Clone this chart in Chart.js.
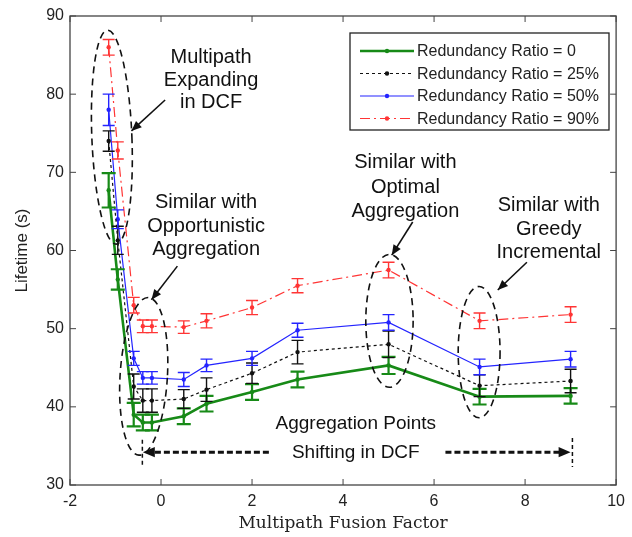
<!DOCTYPE html>
<html>
<head>
<meta charset="utf-8">
<script src="https://cdn.jsdelivr.net/npm/chart.js@4.4.1/dist/chart.umd.min.js"></script>
<style>
  html, body { margin: 0; padding: 0; background: #fff; }
  #wrap { width: 632px; height: 537px; }
</style>
</head>
<body>
<div id="wrap"><canvas id="grafico" width="632" height="537"></canvas></div>
<script>
// Multipath fusion factor (x) and lifetime (s) per redundancy ratio
const fatores = [-1.15, -0.95, -0.6, -0.4, -0.2, 0.5, 1, 2, 3, 5, 7, 9];

const ratio0  = [67.7, 56.3, 39.0, 38.0, 38.0, 38.8, 40.4, 41.9, 43.5, 45.3, 41.3, 41.4];
const ratio25 = [74.0, 61.3, 42.6, 40.8, 40.8, 41.0, 42.2, 44.3, 47.0, 48.0, 42.7, 43.3];
const ratio50 = [78.0, 64.0, 46.2, 43.7, 43.7, 43.5, 45.3, 46.2, 49.8, 50.8, 45.1, 46.1];
const ratio90 = [86.0, 72.8, 53.0, 50.3, 50.3, 50.2, 51.0, 52.7, 55.5, 57.5, 51.0, 51.8];

// half-height of the error bars
const erro0  = [2.2, 1.3, 1.5, 1.0, 1.0, 1.0, 1.0, 1.0, 1.0, 1.1, 1.0, 1.0];
const erro25 = [1.3, 1.8, 1.6, 1.5, 1.5, 1.2, 1.5, 1.3, 1.5, 1.7, 1.4, 1.5];
const erro50 = [2.0, 1.2, 0.9, 0.8, 0.8, 0.9, 0.8, 0.9, 0.9, 1.0, 1.0, 1.0];
const erro90 = [1.0, 1.1, 1.0, 0.8, 0.8, 0.8, 0.9, 0.9, 0.9, 1.0, 1.0, 1.0];

const rotulos = ["Redundancy Ratio = 0", "Redundancy Ratio = 25%", "Redundancy Ratio = 50%", "Redundancy Ratio = 90%"];

const xTicks = [-2, 0, 2, 4, 6, 8, 10];
const yTicks = [30, 40, 50, 60, 70, 80, 90];

const fonte = "'Liberation Sans', Arial, sans-serif";

const pontos = (vals) => fatores.map((f, i) => ({ x: f, y: vals[i] }));

const series = [
  { label: rotulos[0], vals: ratio0,  erros: erro0,  cor: "#178a17", largura: 2.6, dash: [],            errLarg: 2.2, cap: 7 },
  { label: rotulos[1], vals: ratio25, erros: erro25, cor: "#111111", largura: 1.2, dash: [3, 3],        errLarg: 1.4, cap: 6 },
  { label: rotulos[2], vals: ratio50, erros: erro50, cor: "#2424ff", largura: 1.2, dash: [],            errLarg: 1.4, cap: 6 },
  { label: rotulos[3], vals: ratio90, erros: erro90, cor: "#ff3535", largura: 1.2, dash: [10, 4, 2, 4], errLarg: 1.4, cap: 6 }
];

// --- annotations, in data coordinates ---
const elipses = [
  { cx: -1.08, cy: 74.5, rx: 0.44, ry: 13.7, rot: -0.04 },
  { cx: -0.38, cy: 43.9, rx: 0.52, ry: 10.1, rot: 0.06 },
  { cx: 5.02,  cy: 51.0, rx: 0.52, ry: 8.5,  rot: 0 },
  { cx: 6.99,  cy: 47.0, rx: 0.46, ry: 8.4,  rot: 0 }
];
const setas = [
  { x1: 0.09, y1: 79.25, x2: -0.65, y2: 75.3 },
  { x1: 0.36, y1: 58.0,  x2: -0.21, y2: 53.7 },
  { x1: 5.53, y1: 63.65, x2: 5.07,  y2: 59.4 },
  { x1: 8.04, y1: 58.5,  x2: 7.40,  y2: 54.95 }
];
const textos = [
  { x: 1.10, y: [84.75, 81.8, 78.9],  tam: 20, linhas: ["Multipath", "Expanding", "in DCF"] },
  { x: 0.99, y: [66.2, 63.1, 60.1],   tam: 20, linhas: ["Similar with", "Opportunistic", "Aggregation"] },
  { x: 5.37, y: [71.2, 68.1, 65.05],  tam: 20, linhas: ["Similar with", "Optimal", "Aggregation"] },
  { x: 8.52, y: [65.8, 62.75, 59.7],  tam: 20, linhas: ["Similar with", "Greedy", "Incremental"] },
  { x: 4.28, y: [37.8, 34.1],         tam: 19, linhas: ["Aggregation Points", "Shifting in DCF"] }
];

function setaCheia(ctx, x1, y1, x2, y2, tam) {
  const ang = Math.atan2(y2 - y1, x2 - x1);
  ctx.beginPath();
  ctx.moveTo(x2, y2);
  ctx.lineTo(x2 - tam * Math.cos(ang - 0.4), y2 - tam * Math.sin(ang - 0.4));
  ctx.lineTo(x2 - tam * Math.cos(ang + 0.4), y2 - tam * Math.sin(ang + 0.4));
  ctx.closePath();
  ctx.fill();
}

// frame with inward ticks (MATLAB look)
const moldura = {
  id: "moldura",
  beforeDatasetsDraw(chart) {
    const { ctx, chartArea: a, scales } = chart;
    ctx.save();
    ctx.strokeStyle = "#444";
    ctx.lineWidth = 1.3;
    ctx.strokeRect(a.left, a.top, a.right - a.left, a.bottom - a.top);
    ctx.lineWidth = 1;
    ctx.beginPath();
    xTicks.forEach(t => {
      const px = scales.x.getPixelForValue(t);
      ctx.moveTo(px, a.bottom); ctx.lineTo(px, a.bottom - 6);
      ctx.moveTo(px, a.top); ctx.lineTo(px, a.top + 6);
    });
    yTicks.forEach(t => {
      const py = scales.y.getPixelForValue(t);
      ctx.moveTo(a.left, py); ctx.lineTo(a.left + 6, py);
      ctx.moveTo(a.right, py); ctx.lineTo(a.right - 6, py);
    });
    ctx.stroke();
    ctx.restore();
  }
};

const barrasErro = {
  id: "barrasErro",
  afterDatasetsDraw(chart) {
    const { ctx, scales } = chart;
    ctx.save();
    ctx.setLineDash([]);
    series.forEach((s, i) => {
      const meta = chart.getDatasetMeta(i);
      ctx.strokeStyle = s.cor;
      ctx.lineWidth = s.errLarg;
      meta.data.forEach((pt, j) => {
        const top = scales.y.getPixelForValue(s.vals[j] + s.erros[j]);
        const bot = scales.y.getPixelForValue(s.vals[j] - s.erros[j]);
        ctx.beginPath();
        ctx.moveTo(pt.x, top); ctx.lineTo(pt.x, bot);
        ctx.moveTo(pt.x - s.cap, top); ctx.lineTo(pt.x + s.cap, top);
        ctx.moveTo(pt.x - s.cap, bot); ctx.lineTo(pt.x + s.cap, bot);
        ctx.stroke();
      });
    });
    ctx.restore();
  }
};

const anotacoes = {
  id: "anotacoes",
  afterDraw(chart) {
    const { ctx, scales } = chart;
    const X = v => scales.x.getPixelForValue(v);
    const Y = v => scales.y.getPixelForValue(v);
    const kx = X(1) - X(0), ky = Y(0) - Y(1);
    ctx.save();
    ctx.strokeStyle = "#111";
    ctx.fillStyle = "#111";

    // dashed ellipses
    ctx.lineWidth = 1.6;
    ctx.setLineDash([7, 5]);
    elipses.forEach(e => {
      ctx.beginPath();
      ctx.ellipse(X(e.cx), Y(e.cy), e.rx * kx, e.ry * ky, e.rot, 0, Math.PI * 2);
      ctx.stroke();
    });

    // callout arrows
    ctx.setLineDash([]);
    ctx.lineWidth = 1.6;
    setas.forEach(s => {
      const x1 = X(s.x1), y1 = Y(s.y1), x2 = X(s.x2), y2 = Y(s.y2);
      ctx.beginPath();
      ctx.moveTo(x1, y1); ctx.lineTo(x2, y2);
      ctx.stroke();
      setaCheia(ctx, x1, y1, x2, y2, 11);
    });

    // texts
    ctx.textAlign = "center";
    ctx.textBaseline = "middle";
    textos.forEach(t => {
      ctx.font = t.tam + "px " + fonte;
      t.linhas.forEach((l, k) => ctx.fillText(l, X(t.x), Y(t.y[k])));
    });

    // shifting arrows
    const yS = Y(34.2);
    ctx.lineWidth = 3;
    ctx.setLineDash([6, 3]);
    ctx.beginPath();
    ctx.moveTo(X(2.37), yS); ctx.lineTo(X(-0.2), yS);
    ctx.moveTo(X(6.25), yS); ctx.lineTo(X(8.8), yS);
    ctx.stroke();
    ctx.setLineDash([]);
    setaCheia(ctx, X(0), yS, X(-0.4), yS, 13);
    setaCheia(ctx, X(8.6), yS, X(9.0), yS, 13);
    ctx.lineWidth = 1.5;
    ctx.setLineDash([4, 3]);
    ctx.beginPath();
    ctx.moveTo(X(-0.41), Y(35.8)); ctx.lineTo(X(-0.41), Y(32.3));
    ctx.moveTo(X(9.04), Y(36.0)); ctx.lineTo(X(9.04), Y(32.3));
    ctx.stroke();

    // legend box
    ctx.setLineDash([]);
    const lx = 350, ly = 33, lw = 259, lh = 97;
    ctx.fillStyle = "#fff";
    ctx.fillRect(lx, ly, lw, lh);
    ctx.strokeStyle = "#222";
    ctx.lineWidth = 1.3;
    ctx.strokeRect(lx, ly, lw, lh);
    ctx.font = "16px " + fonte;
    ctx.textAlign = "left";
    series.forEach((s, i) => {
      const yy = ly + 18 + i * 22.5;
      ctx.strokeStyle = s.cor;
      ctx.lineWidth = s.largura;
      ctx.setLineDash(s.dash);
      ctx.beginPath();
      ctx.moveTo(lx + 10, yy); ctx.lineTo(lx + 64, yy);
      ctx.stroke();
      ctx.setLineDash([]);
      ctx.fillStyle = s.cor;
      ctx.beginPath();
      ctx.arc(lx + 37, yy, 2.2, 0, Math.PI * 2);
      ctx.fill();
      ctx.fillStyle = "#222";
      ctx.fillText(s.label, lx + 67, yy + 1);
    });
    ctx.restore();
  }
};

const grafico = new Chart(document.getElementById("grafico"), {
  type: "line",
  data: {
    datasets: series.map(s => ({
      label: s.label,
      data: pontos(s.vals),
      borderColor: s.cor,
      backgroundColor: s.cor,
      borderWidth: s.largura,
      borderDash: s.dash,
      pointRadius: 2.2,
      pointBorderWidth: 0,
      pointBackgroundColor: s.cor,
      tension: 0,
      fill: false
    }))
  },
  options: {
    responsive: false,
    animation: false,
    layout: { padding: { top: 16, right: 12, left: 0, bottom: 0 } },
    plugins: {
      legend: { display: false },
      tooltip: { enabled: false }
    },
    scales: {
      x: {
        type: "linear",
        min: -2,
        max: 10,
        afterFit: s => { s.height = 52; },
        afterBuildTicks: s => { s.ticks = xTicks.map(v => ({ value: v })); },
        grid: { display: false, drawTicks: false },
        border: { display: false },
        ticks: { font: { family: fonte, size: 16 }, color: "#222", padding: 7, maxRotation: 0 },
        title: {
          display: true,
          text: "Multipath Fusion Factor",
          font: { family: "'DejaVu Serif', 'Liberation Serif', serif", size: 17 },
          color: "#222",
          padding: { top: 0, bottom: 3 }
        }
      },
      y: {
        min: 30,
        max: 90,
        afterFit: s => { s.width = 70; },
        afterBuildTicks: s => { s.ticks = yTicks.map(v => ({ value: v })); },
        grid: { display: false, drawTicks: false },
        border: { display: false },
        ticks: { font: { family: fonte, size: 16 }, color: "#222", padding: 6 },
        title: {
          display: true,
          text: "Lifetime (s)",
          font: { family: fonte, size: 17 },
          color: "#222",
          padding: { top: 12, bottom: 0 }
        }
      }
    }
  },
  plugins: [moldura, barrasErro, anotacoes]
});
</script>
</body>
</html>
